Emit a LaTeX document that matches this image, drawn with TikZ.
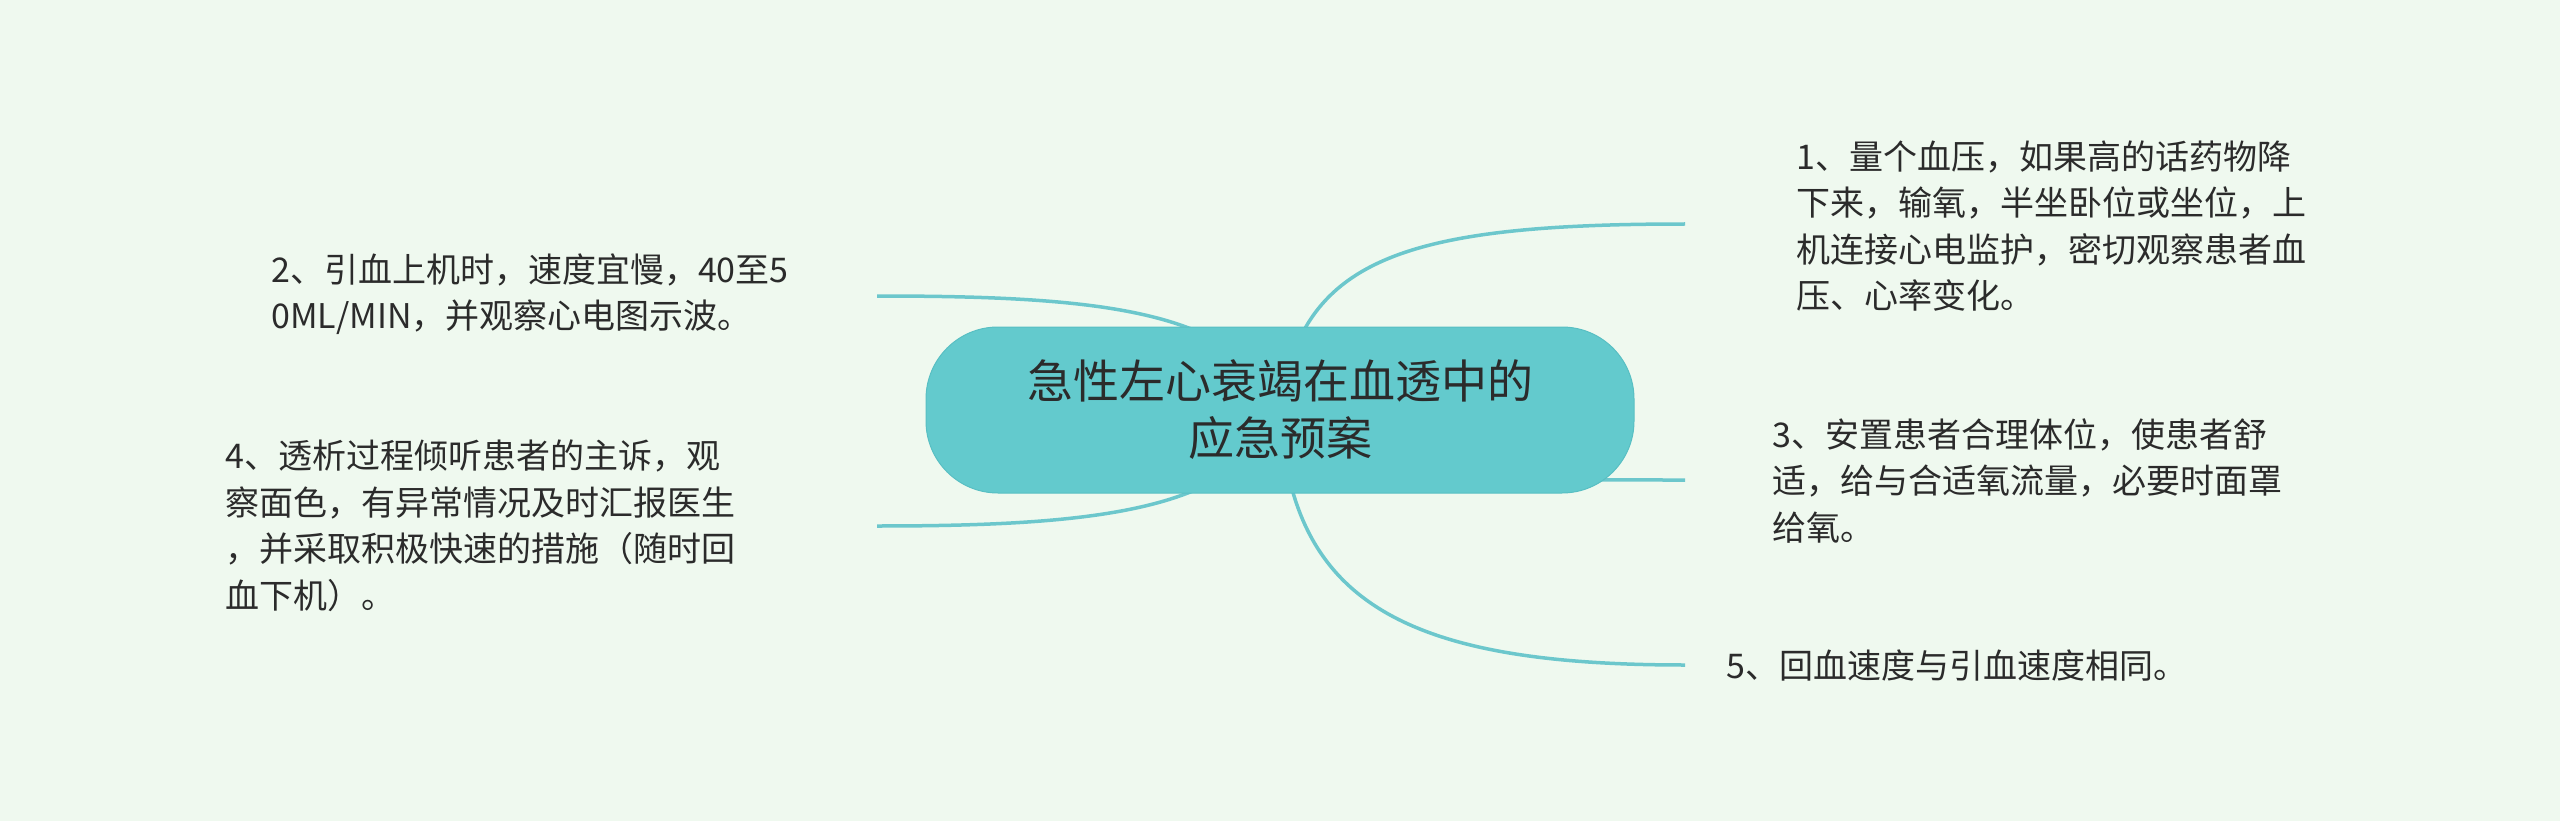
\documentclass[tikz,border=0pt]{standalone}
\usepackage{fontspec}
\setmainfont{Noto Sans CJK SC}
\definecolor{bgc}{HTML}{EFF9EF}
\definecolor{teal1}{HTML}{63CACD}
\definecolor{teal2}{HTML}{58BFC3}
\definecolor{linec}{HTML}{6CC7CC}
\definecolor{txt}{HTML}{2B2B2B}
\tikzset{
  root/.style={draw=teal2, line width=1pt, fill=teal1, rounded corners=72pt,
    minimum width=708pt, minimum height=166pt, inner sep=0pt, text=txt,
    align=center, font=\fontsize{46pt}{57pt}\selectfont},
  leaf/.style={anchor=west, inner sep=0pt, text=txt, align=left,
    font=\fontsize{34pt}{46.5pt}\selectfont},
  conn/.style={draw=linec, line width=3.5pt}
}
\begin{document}
\begin{tikzpicture}[x=1pt,y=-1pt]
\fill[bgc] (0,0) rectangle (2560,821);
\useasboundingbox (0,0) rectangle (2560,821);
\coordinate (c) at (1280,410);
\coordinate (e1) at (1685,224);
\coordinate (e3) at (1685,480);
\coordinate (e5) at (1685,665);
\coordinate (e2) at (877,296);
\coordinate (e4) at (877,526);
\draw[conn] (c) .. controls (1300,260) and (1400,224) .. (e1);
\draw[conn] (c) .. controls (1330,480) and (1450,480) .. (e3);
\draw[conn] (c) .. controls (1290,600) and (1400,665) .. (e5);
\draw[conn] (c) .. controls (1240,310) and (1100,296) .. (e2);
\draw[conn] (c) .. controls (1240,510) and (1100,526) .. (e4);
\node[root] (root) at (1280,410) {急性左心衰竭在血透中的\\应急预案};
\node[leaf] (n1) at (1796,226) {1、量个血压，如果高的话药物降\\下来，输氧，半坐卧位或坐位，上\\机连接心电监护，密切观察患者血\\压、心率变化。};
\node[leaf] (n2) at (271,294) {2、引血上机时，速度宜慢，40至5\\0ML/MIN，并观察心电图示波。};
\node[leaf] (n3) at (1772,481) {3、安置患者合理体位，使患者舒\\适，给与合适氧流量，必要时面罩\\给氧。};
\node[leaf] (n4) at (225,526) {4、透析过程倾听患者的主诉，观\\察面色，有异常情况及时汇报医生\\，并采取积极快速的措施（随时回\\血下机）。};
\node[leaf] (n5) at (1726,666) {5、回血速度与引血速度相同。};
\end{tikzpicture}
\end{document}
